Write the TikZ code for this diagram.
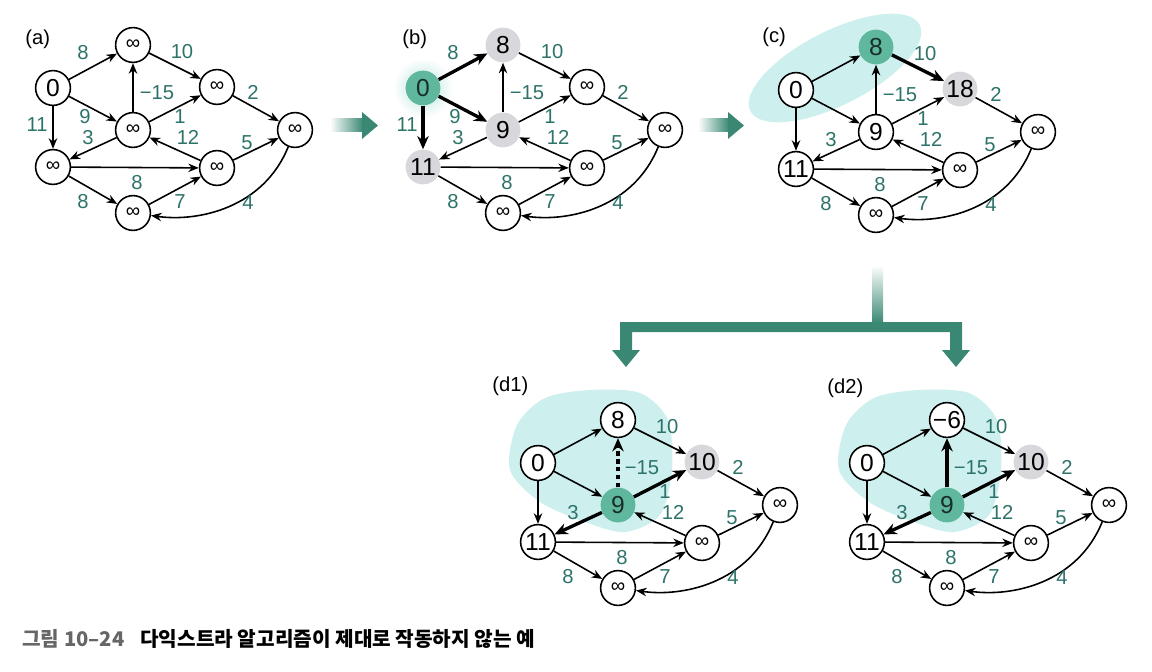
\documentclass[tikz,border=0pt]{standalone}
\usepackage{fontspec}
\setmainfont{Liberation Sans}
\newfontfamily\krfont{Noto Sans CJK KR}
\usepackage{xcolor}
\usetikzlibrary{arrows.meta}

\definecolor{lblgreen}{RGB}{45,115,105}
\definecolor{hotfill}{RGB}{95,183,158}
\definecolor{seenfill}{RGB}{215,215,220}
\definecolor{glow}{RGB}{205,239,237}
\definecolor{bigarrow}{RGB}{58,136,116}

\newcommand\oo{{\fontsize{11.5}{11.5}\selectfont ∞}}
\newif\ifsrclbl

% one panel of the graph, #1..#8 = distances of v0..v7
\newcommand\dgraph[8]{%
  \node[st0] (v0) at (53,-88) {#1};
  \node[st1] (v1) at (133,-45) {#2};
  \node[st2] (v2) at (133,-130) {#3};
  \node[st3] (v3) at (53,-167) {#4};
  \node[st4] (v4) at (217,-87) {#5};
  \node[st5] (v5) at (295,-130) {#6};
  \node[st6] (v6) at (217,-168) {#7};
  \node[st7] (v7) at (133,-213) {#8};
  \draw[edge, e01] (v0) -- (v1);
  \draw[edge, e14] (v1) -- (v4);
  \draw[edge, e21] (v2) -- (v1);
  \draw[edge, e45] (v4) -- (v5);
  \draw[edge, e02] (v0) -- (v2);
  \draw[edge, e24] (v2) -- (v4);
  \draw[edge, e03] (v0) -- (v3);
  \draw[edge, e23] (v2) -- (v3);
  \draw[edge] (v6) -- (v2);
  \draw[edge] (v6) -- (v5);
  \draw[edge] (v3) -- (v6);
  \draw[edge] (v3) -- (v7);
  \draw[edge] (v7) -- (v6);
  \draw[edge] (v5) to[out=-112, in=-8] (v7);
  \ifsrclbl
    \node[lbl] (w01) at (83,-53) {8};
    \node[lbl] (w02) at (85,-117) {9};
    \node[lbl] (w03) at (37,-125) {11};
  \fi
  \node[lbl] (w14) at (182,-52) {10};
  \node[lbl] (w21) at (157,-93) {−15};
  \node[lbl] (w45) at (253,-92) {2};
  \node[lbl] (w24) at (180,-117) {1};
  \node[lbl] (w23) at (88,-138) {3};
  \node[lbl] (w62) at (188,-137) {12};
  \node[lbl] (w65) at (247,-143) {5};
  \node[lbl] (w36) at (137,-183) {8};
  \node[lbl] (w37) at (83,-202) {8};
  \node[lbl] (w76) at (180,-202) {7};
  \node[lbl] (w57) at (248,-203) {4};
}

\begin{document}
\begin{tikzpicture}[x=0.02cm, y=0.02cm, >={Stealth[length=6pt, width=4.8pt]},
  vtx/.style={circle, minimum size=19.8pt, inner sep=0pt, font=\fontsize{14}{14}\selectfont},
  plain/.style={vtx, draw, line width=0.9pt, fill=white},
  hot/.style={vtx, fill=hotfill, text=black!75!hotfill},
  seen/.style={vtx, fill=seenfill},
  lbl/.style={text=lblgreen, inner sep=0pt, font=\fontsize{11.5}{12}\selectfont},
  tag/.style={anchor=west, inner sep=0pt, font=\fontsize{11.5}{12}\selectfont},
  edge/.style={->, line width=0.9pt},
  heavy/.style={line width=1.9pt, -{Stealth[length=7.5pt, width=6.5pt]}},
  st0/.style={plain}, st1/.style={plain}, st2/.style={plain}, st3/.style={plain},
  st4/.style={plain}, st5/.style={plain}, st6/.style={plain}, st7/.style={plain},
  e01/.style={}, e14/.style={}, e21/.style={}, e45/.style={},
  e02/.style={}, e24/.style={}, e03/.style={}, e23/.style={}]
  \useasboundingbox (0,0) rectangle (1152,-672);

  % (a)
  \node[tag] (ta) at (25,-39) {(a)};
  \begin{scope}[name prefix=a-]
    \srclbltrue
    \dgraph{0}{\oo}{\oo}{\oo}{\oo}{\oo}{\oo}{\oo}
  \end{scope}

  % (b)
  \node[tag] (tb) at (402,-39) {(b)};
  \begin{scope}[name prefix=b-, shift={(370,0)}, st0/.style={hot}, st1/.style={seen},
      st2/.style={seen}, st3/.style={seen}, e01/.style={heavy}, e02/.style={heavy}, e03/.style={heavy}]
    \srclbltrue
    \shade[inner color=glow!80!hotfill, outer color=white] (53,-88) circle[radius=30];
    \dgraph{0}{8}{9}{11}{\oo}{\oo}{\oo}{\oo}
  \end{scope}

  % (c)
  \node[tag] (tc) at (762,-37) {(c)};
  \begin{scope}[name prefix=c-, shift={(743,-2)}, st1/.style={hot}, st4/.style={seen},
      e14/.style={heavy}]
    \srclblfalse
    \fill[glow, rotate around={27:(92,-66)}] (92,-66) ellipse[x radius=95, y radius=37];
    \dgraph{0}{8}{9}{11}{18}{\oo}{\oo}{\oo}
  \end{scope}

  % (d1)
  \node[tag] (td1) at (492,-386) {(d1)};
  \begin{scope}[name prefix=d-, shift={(485,-375)}, st2/.style={hot}, st4/.style={seen},
      e24/.style={heavy}, e23/.style={heavy}, e21/.style={heavy, dash pattern=on 2.5pt off 2pt}]
    \srclblfalse
    \fill[glow] plot[smooth cycle] coordinates {(25,-95) (32,-50) (60,-23) (105,-15) (155,-18)
      (183,-45) (187,-95) (175,-140) (140,-157) (100,-147) (55,-127)};
    \dgraph{0}{8}{9}{11}{10}{\oo}{\oo}{\oo}
  \end{scope}

  % (d2)
  \node[tag] (td2) at (827,-388) {(d2)};
  \begin{scope}[name prefix=e-, shift={(814,-375)}, st2/.style={hot}, st4/.style={seen},
      e24/.style={heavy}, e23/.style={heavy}, e21/.style={heavy}]
    \srclblfalse
    \fill[glow] plot[smooth cycle] coordinates {(25,-95) (32,-50) (60,-23) (105,-15) (155,-18)
      (183,-45) (187,-95) (175,-140) (140,-157) (100,-147) (55,-127)};
    \dgraph{0}{−6}{9}{11}{10}{\oo}{\oo}{\oo}
  \end{scope}

  % step arrows
  \shade[left color=white, right color=bigarrow] (330,-119) rectangle (363,-132);
  \fill[bigarrow] (362,-112) -- (378,-125.5) -- (362,-139) -- cycle;
  \shade[left color=white, right color=bigarrow] (698,-119) rectangle (729,-132);
  \fill[bigarrow] (728,-112) -- (744,-125.5) -- (728,-139) -- cycle;
  \shade[top color=white, bottom color=bigarrow] (872,-265) rectangle (883,-323);
  \fill[bigarrow] (620,-322) -- (962,-322) -- (962,-350) -- (970,-350) -- (956,-367)
    -- (942,-350) -- (950,-350) -- (950,-332) -- (632,-332) -- (632,-350) -- (640,-350)
    -- (626,-367) -- (612,-350) -- (620,-350) -- cycle;

  \node[anchor=west, inner sep=0pt, font=\krfont\bfseries\fontsize{11.5}{13}\selectfont] (cap) at (22,-639)
    {\textcolor{black!60}{그림 10–24}\hspace{9pt}다익스트라 알고리즘이 제대로 작동하지 않는 예};
\end{tikzpicture}
\end{document}
